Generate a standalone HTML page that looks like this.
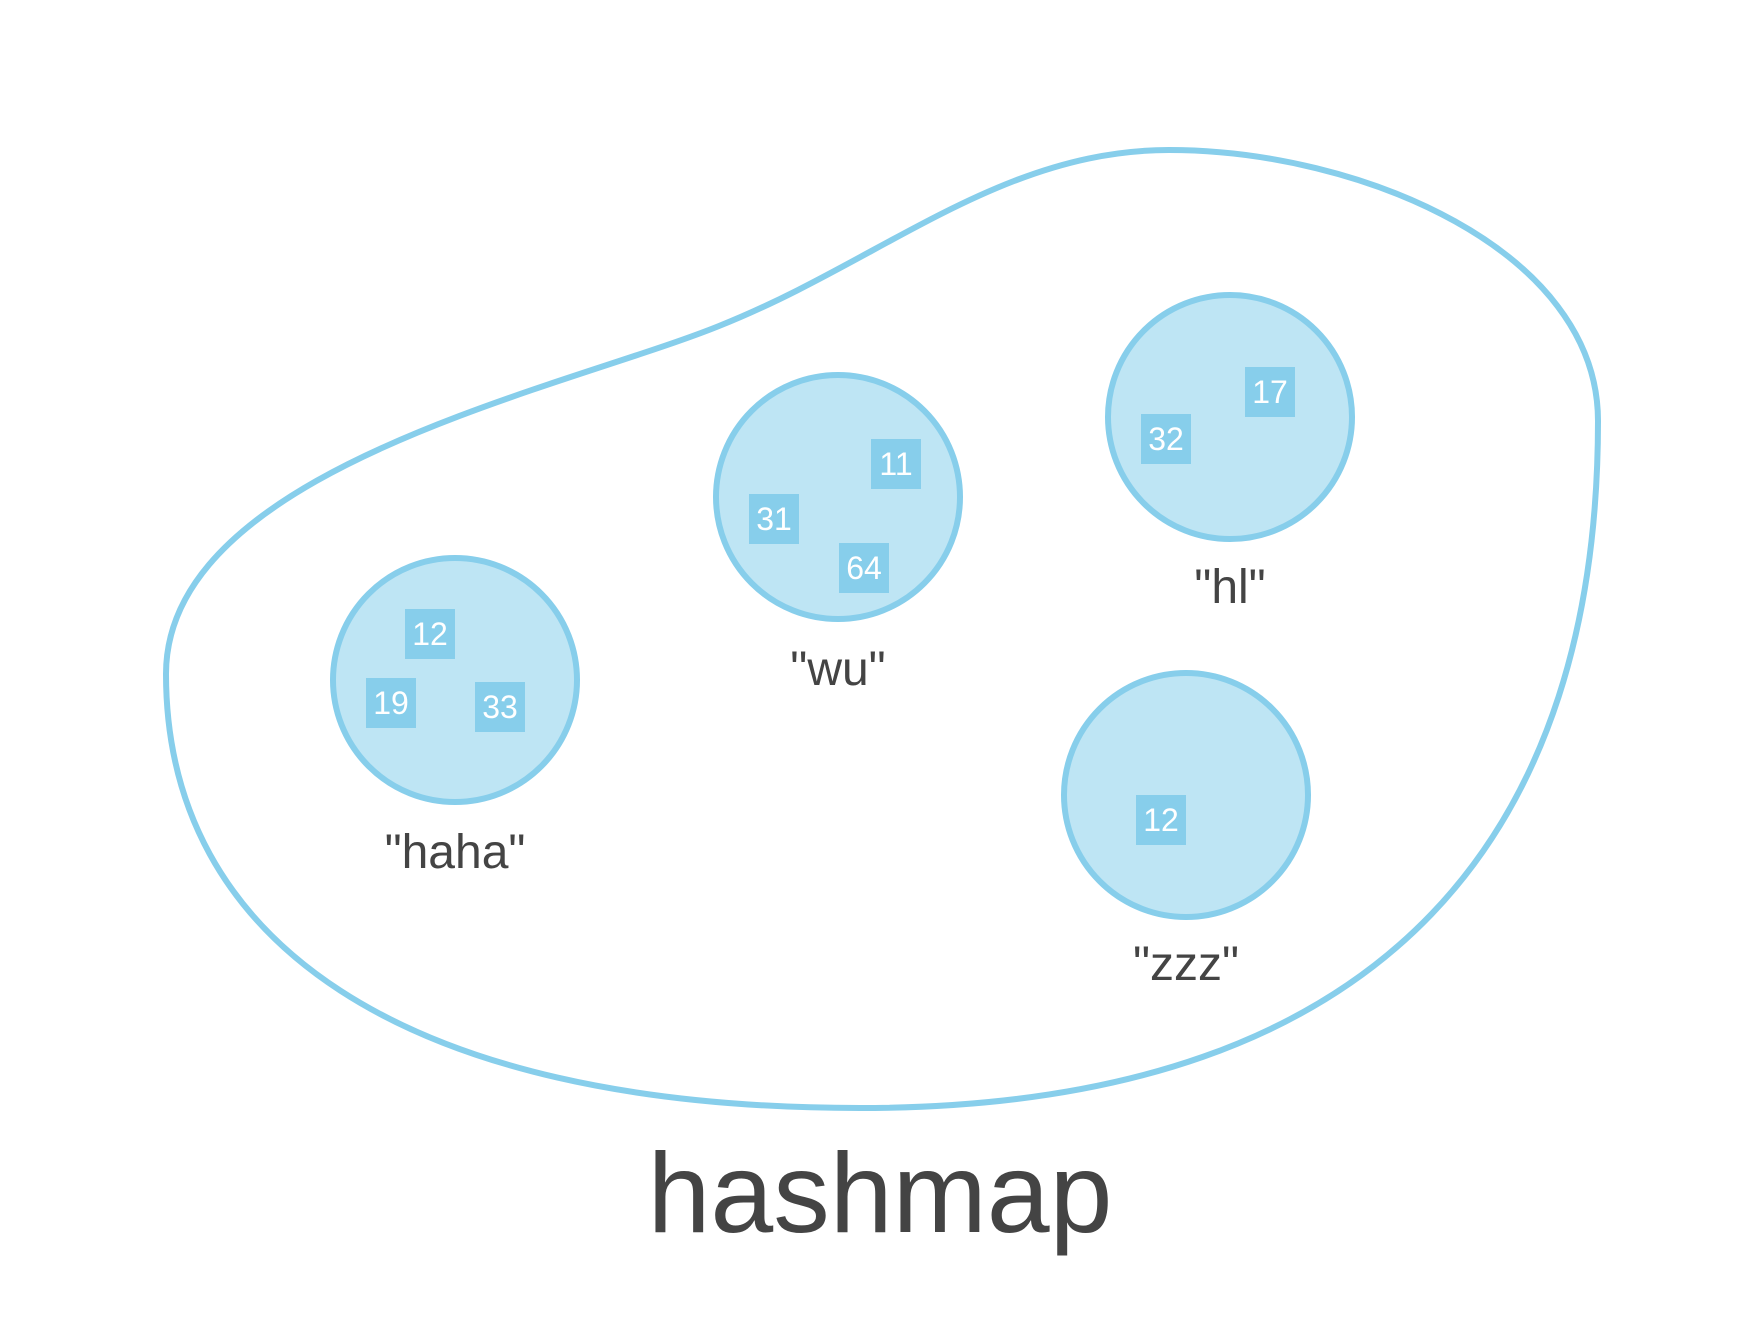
<!DOCTYPE html>
<html><head><style>html,body{margin:0;padding:0;background:#fff}</style></head>
<body>
<svg width="1754" height="1327" viewBox="0 0 1754 1327" xmlns="http://www.w3.org/2000/svg" font-family="Liberation Sans, Arial, sans-serif">
<rect width="1754" height="1327" fill="#fff"/>
<path d="M1169,150 C1360,150 1598,250 1598,421 C1598,820 1400,1108 860,1108 C400,1108 166,940 166,674 C166,470 560,390 719,326 C880,262 1000,150 1169,150 Z" fill="none" stroke="#87ceeb" stroke-width="6"/>
<g fill="#bee5f4" stroke="#87ceeb" stroke-width="6">
<circle cx="455" cy="680" r="122"/>
<circle cx="838" cy="497" r="122"/>
<circle cx="1230" cy="417" r="122"/>
<circle cx="1186" cy="795" r="122"/>
</g>
<g fill="#87ceeb">
<rect x="405" y="609" width="50" height="50"/>
<rect x="366" y="678" width="50" height="50"/>
<rect x="475" y="682" width="50" height="50"/>
<rect x="871" y="439" width="50" height="50"/>
<rect x="749" y="494" width="50" height="50"/>
<rect x="839" y="543" width="50" height="50"/>
<rect x="1245" y="367" width="50" height="50"/>
<rect x="1141" y="414" width="50" height="50"/>
<rect x="1136" y="795" width="50" height="50"/>
</g>
<g fill="#fff" font-size="32" text-anchor="middle">
<text x="430" y="645">12</text>
<text x="391" y="714">19</text>
<text x="500" y="718">33</text>
<text x="896" y="475">11</text>
<text x="774" y="530">31</text>
<text x="864" y="579">64</text>
<text x="1270" y="403">17</text>
<text x="1166" y="450">32</text>
<text x="1161" y="831">12</text>
</g>
<g fill="#444" font-size="48" text-anchor="middle">
<text x="455" y="868">"haha"</text>
<text x="838" y="685">"wu"</text>
<text x="1230" y="603">"hl"</text>
<text x="1186" y="980">"zzz"</text>
</g>
<text x="880" y="1232" fill="#444" font-size="113" text-anchor="middle">hashmap</text>
</svg>
</body></html>
